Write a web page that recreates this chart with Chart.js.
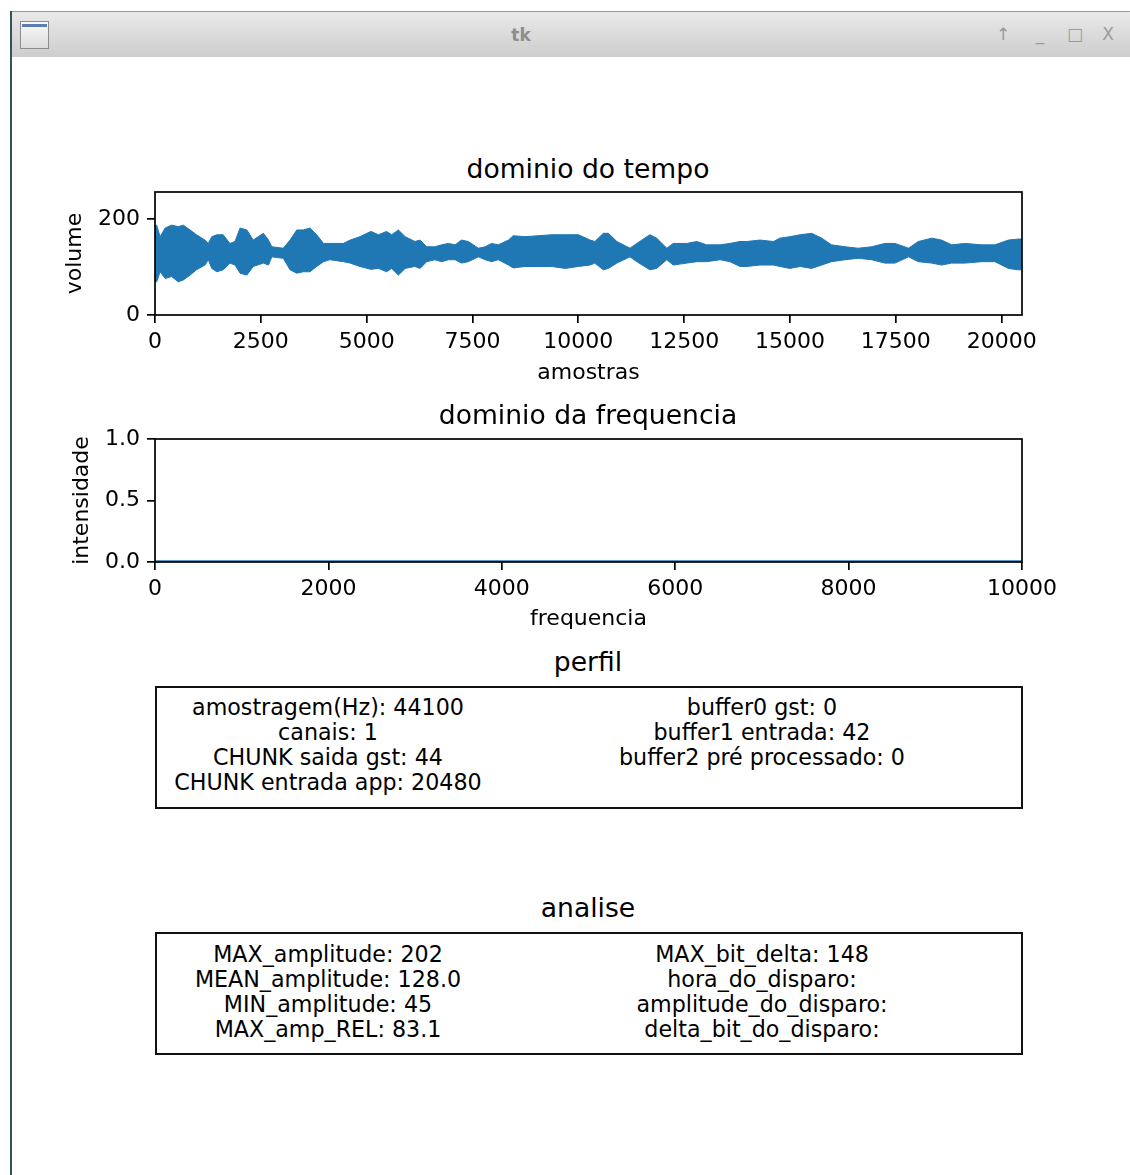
<!DOCTYPE html>
<html>
<head>
<meta charset="utf-8">
<script src="https://cdn.jsdelivr.net/npm/chart.js@4.4.0/dist/chart.umd.min.js"></script>
<style>
  body { margin: 0; width: 1130px; height: 1175px; background: #fff; position: relative; overflow: hidden;
         font-family: "DejaVu Sans", sans-serif; color: #000; }
  .abs { position: absolute; }
  #borda { left: 10px; top: 11px; width: 2px; height: 1164px; background: #2e5753; }
  #barra { left: 12px; top: 11px; width: 1118px; height: 46px;
           background: linear-gradient(#e9e9e9, #cdcdcd); border-top: 1px solid #9a9a9a; box-sizing: border-box; }
  #icone { left: 20px; top: 21px; width: 29px; height: 28px; box-sizing: border-box;
           border: 1px solid #8c8c8c; background: linear-gradient(#fafafa, #dcdcdc); }
  #icone::before { content: ""; position: absolute; left: 1px; right: 1px; top: 2px; height: 3px; background: #5b7fb5; }
  #tk { left: 521px; top: 25px; transform: translateX(-50%); font: bold 17px "DejaVu Sans"; color: #8d8d8d; }
  .botao { top: 24px; font: 17px "DejaVu Sans"; color: #9b9b9b; transform: translateX(-50%); }
  .titulo { left: 588px; font-size: 26.6px; line-height: 31px; transform: translateX(-50%); white-space: nowrap; }
  .caixa { left: 155px; width: 868px; height: 123px; box-sizing: border-box; border: 2px solid #111; }
  .coluna { font-size: 22.2px; line-height: 25px; text-align: center; white-space: nowrap; transform: translateX(-50%); }
</style>
</head>
<body>
<div id="borda" class="abs"></div>
<div id="barra" class="abs"></div>
<div id="icone" class="abs"></div>
<div id="tk" class="abs">tk</div>
<div class="abs botao" style="left:1003px">↑</div>
<div class="abs botao" style="left:1040px">_</div>
<div class="abs botao" style="left:1075px">□</div>
<div class="abs botao" style="left:1108px">X</div>

<div class="abs titulo" style="top:153px">dominio do tempo</div>
<div class="abs" style="left:0;top:155px"><canvas id="tempo" width="1130" height="245"></canvas></div>
<div class="abs titulo" style="top:399px">dominio da frequencia</div>
<div class="abs" style="left:0;top:400px"><canvas id="frequencia" width="1130" height="245"></canvas></div>

<div class="abs titulo" style="top:646px">perfil</div>
<div class="abs caixa" style="top:686px"></div>
<div id="perfilEsq" class="abs coluna" style="left:328px;top:695px"></div>
<div id="perfilDir" class="abs coluna" style="left:762px;top:695px"></div>

<div class="abs titulo" style="top:892px">analise</div>
<div class="abs caixa" style="top:932px"></div>
<div id="analiseEsq" class="abs coluna" style="left:328px;top:942px"></div>
<div id="analiseDir" class="abs coluna" style="left:762px;top:942px"></div>

<script>
// envelope do sinal: posição da amostra, topo e base
const amostras = [0, 40, 120, 240, 390, 550, 670, 830, 980, 1180, 1260, 1340, 1460, 1610, 1770, 1890,
  2010, 2170, 2320, 2560, 2680, 2760, 3030, 3190, 3350, 3500, 3660, 3820, 3980, 4130, 4450, 4610,
  4840, 5100, 5280, 5470, 5590, 5750, 5910, 6140, 6260, 6420, 6610, 6770, 6930, 7090, 7240, 7400,
  7640, 7800, 7950, 8110, 8350, 8460, 8740, 9050, 9370, 9690, 10000, 10280, 10390, 10590, 10710,
  10910, 11220, 11380, 11690, 11850, 12090, 12240, 12560, 12800, 13030, 13350, 13580, 13820, 13980,
  14290, 14610, 14760, 15000, 15240, 15510, 15750, 15980, 16300, 16610, 16930, 17240, 17480, 17800,
  18030, 18350, 18580, 18820, 19130, 19530, 19840, 20160, 20390, 20480];
const volumeTopo = [185, 187, 163, 181, 187, 184, 187, 177, 167, 156, 149, 163, 167, 167, 149, 153,
  181, 177, 156, 170, 156, 142, 139, 156, 177, 177, 181, 167, 149, 149, 149, 156,
  163, 174, 167, 174, 167, 177, 163, 153, 156, 142, 142, 146, 149, 146, 156, 153,
  139, 142, 149, 146, 156, 165, 163, 165, 167, 167, 167, 156, 153, 170, 170,
  153, 139, 149, 167, 160, 139, 149, 149, 153, 146, 146, 149, 153, 153,
  156, 153, 160, 163, 167, 170, 160, 146, 142, 139, 142, 149, 149, 139,
  153, 160, 156, 146, 149, 146, 146, 156, 158, 158];
const volumeBase = [70, 69, 90, 76, 80, 69, 73, 83, 94, 104, 115, 97, 90, 94, 108, 104,
  87, 83, 101, 108, 104, 121, 118, 94, 87, 90, 90, 101, 111, 115, 111, 108,
  101, 95, 97, 90, 97, 83, 97, 101, 97, 111, 115, 111, 115, 115, 108, 111,
  121, 115, 111, 115, 104, 98, 101, 101, 101, 97, 101, 104, 108, 94, 97,
  108, 121, 111, 94, 97, 115, 104, 108, 111, 111, 115, 111, 101, 101,
  104, 104, 101, 97, 101, 97, 104, 111, 115, 118, 115, 108, 108, 121,
  111, 108, 104, 108, 108, 111, 111, 97, 94, 94];
const ticksAmostras = [0, 2500, 5000, 7500, 10000, 12500, 15000, 17500, 20000];
const ticksVolume = [0, 200];

// espectro (nulo na figura)
const frequencias = [0, 2000, 4000, 6000, 8000, 10000];
const intensidade = [0, 0, 0, 0, 0, 0];
const ticksFrequencia = [0, 2000, 4000, 6000, 8000, 10000];
const ticksIntensidade = [0, 0.5, 1.0];
const rotulosIntensidade = ["0.0", "0.5", "1.0"];

const perfilEsquerda = ["amostragem(Hz): 44100", "canais: 1", "CHUNK saida gst: 44", "CHUNK entrada app: 20480"];
const perfilDireita = ["buffer0 gst: 0", "buffer1 entrada: 42", "buffer2 pré processado: 0"];
const analiseEsquerda = ["MAX_amplitude: 202", "MEAN_amplitude: 128.0", "MIN_amplitude: 45", "MAX_amp_REL: 83.1"];
const analiseDireita = ["MAX_bit_delta: 148", "hora_do_disparo:", "amplitude_do_disparo:", "delta_bit_do_disparo:"];

function preencher(id, linhas) {
  const el = document.getElementById(id);
  linhas.forEach((t) => {
    const d = document.createElement("div");
    d.textContent = t;
    el.appendChild(d);
  });
}
preencher("perfilEsq", perfilEsquerda);
preencher("perfilDir", perfilDireita);
preencher("analiseEsq", analiseEsquerda);
preencher("analiseDir", analiseDireita);

Chart.defaults.font.family = "DejaVu Sans";
Chart.defaults.color = "#000";
const AZUL = "#1f77b4";
const FONTE = 22;

// moldura preta em volta da área do gráfico
const moldura = {
  id: "moldura",
  afterDatasetsDraw(chart) {
    const { ctx, chartArea: a } = chart;
    ctx.save();
    ctx.strokeStyle = "#000";
    ctx.lineWidth = 1.7;
    ctx.strokeRect(a.left, a.top, a.right - a.left, a.bottom - a.top);
    ctx.restore();
  },
};

function eixo(opts) {
  return {
    type: "linear",
    min: opts.min,
    max: opts.max,
    afterBuildTicks: (s) => { s.ticks = opts.ticks.map((v) => ({ value: v })); },
    afterFit: opts.afterFit,
    grid: { display: true, drawOnChartArea: false, drawTicks: true, tickLength: 8, color: "#000", lineWidth: 1.7 },
    border: { display: false },
    ticks: { color: "#000", font: { size: FONTE }, padding: opts.pad, maxRotation: 0, autoSkip: false, callback: opts.fmt },
    title: { display: true, text: opts.titulo, color: "#000", font: { size: FONTE }, padding: opts.titPad },
  };
}

function base(padTop) {
  return {
    responsive: false,
    animation: false,
    layout: { padding: { left: 0, right: 108, top: padTop, bottom: 0 } },
    plugins: { legend: { display: false }, tooltip: { enabled: false } },
  };
}

new Chart(document.getElementById("tempo"), {
  type: "line",
  data: {
    datasets: [
      { data: amostras.map((x, i) => ({ x, y: volumeBase[i] })), borderColor: AZUL, borderWidth: 1, pointRadius: 0, fill: false },
      { data: amostras.map((x, i) => ({ x, y: volumeTopo[i] })), borderColor: AZUL, borderWidth: 1, pointRadius: 0, backgroundColor: AZUL, fill: "-1" },
    ],
  },
  options: {
    ...base(37),
    scales: {
      x: eixo({ min: 0, max: 20480, ticks: ticksAmostras, pad: 6, fmt: (v) => String(v),
                titulo: "amostras", titPad: { top: 0, bottom: 14 }, afterFit: (s) => { s.height = 85; } }),
      y: eixo({ min: 0, max: 256, ticks: ticksVolume, pad: 7, fmt: (v) => String(v),
                titulo: "volume", titPad: { top: 62, bottom: 0 }, afterFit: (s) => { s.width = 155; } }),
    },
  },
  plugins: [moldura],
});

new Chart(document.getElementById("frequencia"), {
  type: "line",
  data: {
    datasets: [
      { data: frequencias.map((x, i) => ({ x, y: intensidade[i] })), borderColor: AZUL, borderWidth: 3.3, pointRadius: 0, fill: false },
    ],
  },
  options: {
    ...base(39),
    scales: {
      x: eixo({ min: 0, max: 10000, ticks: ticksFrequencia, pad: 6, fmt: (v) => String(v),
                titulo: "frequencia", titPad: { top: 0, bottom: 13 }, afterFit: (s) => { s.height = 83; } }),
      y: eixo({ min: 0, max: 1, ticks: ticksIntensidade, pad: 7, fmt: (v) => rotulosIntensidade[ticksIntensidade.indexOf(v)],
                titulo: "intensidade", titPad: { top: 69, bottom: 0 }, afterFit: (s) => { s.width = 155; } }),
    },
  },
  plugins: [moldura],
});
</script>
</body>
</html>
